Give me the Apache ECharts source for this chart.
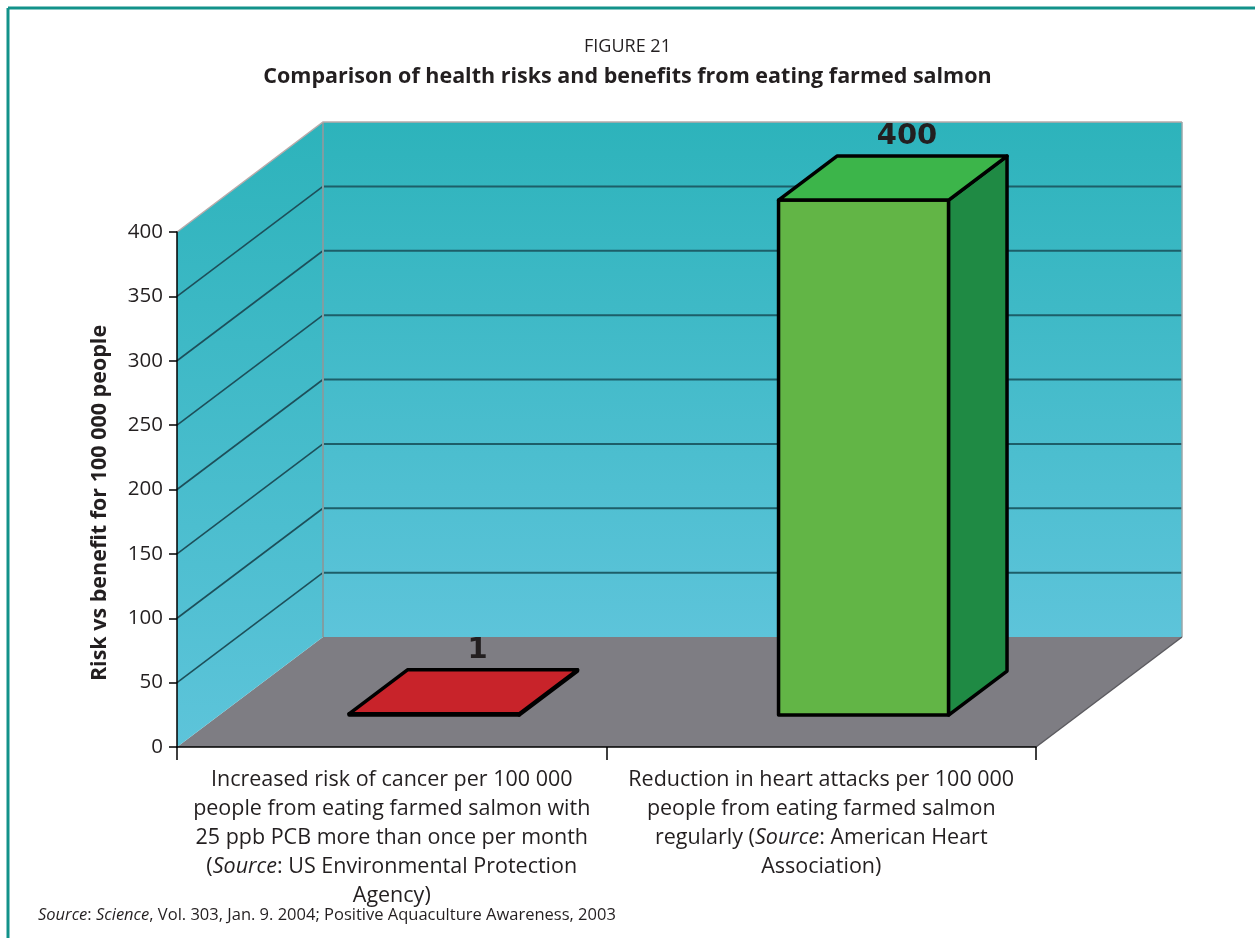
<!DOCTYPE html>
<html><head><meta charset="utf-8">
<script src="https://cdn.jsdelivr.net/npm/echarts@6/dist/echarts.min.js"></script>
<style>html,body{margin:0;padding:0;background:#fff}#c{width:1255px;height:938px}</style>
</head><body><div id="c"></div>
<script>
// ---- data ----
const categories = [
  'Increased risk of cancer per 100 000\npeople from eating farmed salmon with\n25 ppb PCB more than once per month\n({i|Source}: US Environmental Protection\nAgency)',
  'Reduction in heart attacks per 100 000\npeople from eating farmed salmon\nregularly ({i|Source}: American Heart\nAssociation)'
];
const values = [1, 400];
const valueLabels = ['1', '400'];
const yTicks = [0, 50, 100, 150, 200, 250, 300, 350, 400];
const yMax = 400;
const yAxisName = 'Risk vs benefit for 100 000 people';

// ---- styling ----
const DX = 146, DY = -110;       // depth offset of the 3D box (px)
const F1 = 0.29, F2 = 0.69;      // bar front/back depth fractions
const BAR_W = 0.396;             // bar width as fraction of category band
const TXT = '#231f20';
const barColors = [
  {front: '#c3252b', top: '#c8232a', side: '#8e1b1f'},
  {front: '#62b546', top: '#3cb54a', side: '#1f8a44'}
];
const wallGrad = {type: 'linear', x: 0, y: 0, x2: 0, y2: 1,
  colorStops: [{offset: 0, color: '#2db3bb'}, {offset: 1, color: '#5dc4da'}]};

function renderWalls(params, api) {
  const c0 = api.coord([0, 0]);
  const band = api.size([1, 0])[0];
  const xL = c0[0] - band / 2;
  const xR = xL + band * categories.length;
  const y0 = c0[1];
  const yT = api.coord([0, yMax])[1];
  const ch = [];
  ch.push({type: 'polygon', shape: {points: [[xL, y0], [xR, y0], [xR + DX, y0 + DY], [xL + DX, y0 + DY]]},
    style: {fill: '#7e7d83'}});
  ch.push({type: 'rect', shape: {x: xL + DX, y: yT + DY, width: xR - xL, height: y0 - yT},
    style: {fill: wallGrad}});
  ch.push({type: 'polygon', shape: {points: [[xL, y0], [xL, yT], [xL + DX, yT + DY], [xL + DX, y0 + DY]]},
    style: {fill: wallGrad}});
  yTicks.forEach(v => {
    if (v <= 0 || v >= yMax) return;
    const y = api.coord([0, v])[1];
    ch.push({type: 'line', shape: {x1: xL + DX, y1: y + DY, x2: xR + DX, y2: y + DY},
      style: {stroke: '#1d5e69', lineWidth: 2}});
    ch.push({type: 'line', shape: {x1: xL, y1: y, x2: xL + DX, y2: y + DY},
      style: {stroke: '#1d4f5a', lineWidth: 1.6}});
  });
  ch.push({type: 'line', shape: {x1: xL + DX, y1: yT + DY, x2: xL + DX, y2: y0 + DY},
    style: {stroke: '#7f9ea3', lineWidth: 2}});
  ch.push({type: 'polyline', shape: {points: [[xL, yT], [xL + DX, yT + DY], [xR + DX, yT + DY]]},
    style: {stroke: '#b8aaaa', lineWidth: 1.5, fill: null}});
  ch.push({type: 'line', shape: {x1: xR + DX, y1: yT + DY, x2: xR + DX, y2: y0 + DY},
    style: {stroke: '#9aa6a8', lineWidth: 1.5}});
  ch.push({type: 'line', shape: {x1: xR, y1: y0, x2: xR + DX, y2: y0 + DY},
    style: {stroke: '#5c5b60', lineWidth: 1.5}});
  return {type: 'group', children: ch};
}

function renderBar(params, api) {
  const ci = api.value(0), v = api.value(1);
  const base = api.coord([ci, 0]);
  const top = api.coord([ci, v]);
  const band = api.size([1, 0])[0];
  const w = band * BAR_W;
  const fx = DX * F1, fy = DY * F1;
  const ddx = DX * (F2 - F1), ddy = DY * (F2 - F1);
  const xl = base[0] - w / 2 + fx, xr = xl + w;
  const yb = base[1] + fy, yt = top[1] + fy;
  const col = barColors[params.dataIndex];
  const st = {stroke: '#000', lineWidth: 3.5, lineJoin: 'round'};
  return {type: 'group', children: [
    {type: 'polygon', shape: {points: [[xl, yb], [xr, yb], [xr, yt], [xl, yt]]},
      style: Object.assign({fill: col.front}, st)},
    {type: 'polygon', shape: {points: [[xr, yb], [xr + ddx, yb + ddy], [xr + ddx, yt + ddy], [xr, yt]]},
      style: Object.assign({fill: col.side}, st)},
    {type: 'polygon', shape: {points: [[xl, yt], [xr, yt], [xr + ddx, yt + ddy], [xl + ddx, yt + ddy]]},
      style: Object.assign({fill: col.top}, st)},
    {type: 'text', x: (xl + xr) / 2 + ddx - 15, y: yt + ddy - 5,
      style: {text: valueLabels[params.dataIndex], fill: TXT, font: 'bold 29px "DejaVu Sans"',
        align: 'center', verticalAlign: 'bottom'}}
  ]};
}

const chart = echarts.init(document.getElementById('c'), null, {renderer: 'canvas'});
chart.setOption({
  backgroundColor: '#fff',
  animation: false,
  title: {
    text: 'FIGURE 21',
    subtext: 'Comparison of health risks and benefits from eating farmed salmon',
    left: 'center', top: 33, itemGap: 10,
    textStyle: {fontFamily: 'Open Sans', fontSize: 18, fontWeight: 'normal', color: TXT},
    subtextStyle: {fontFamily: 'Open Sans', fontSize: 21.5, fontWeight: 'bold', color: TXT}
  },
  grid: {left: 177, right: 219, top: 232, bottom: 191, containLabel: false},
  xAxis: {
    type: 'category', data: categories,
    axisLine: {show: true, lineStyle: {color: '#000', width: 1.5}},
    axisTick: {show: true, length: 13, lineStyle: {color: '#000', width: 1.5}},
    axisLabel: {
      interval: 0, margin: 18, color: TXT, fontFamily: 'Open Sans', fontSize: 21.5, lineHeight: 29,
      align: 'center',
      rich: {i: {fontStyle: 'italic', fontFamily: 'Open Sans', fontSize: 21.5, lineHeight: 29, color: TXT}}
    },
    splitLine: {show: false}
  },
  yAxis: {
    type: 'value', min: 0, max: yMax, interval: 50,
    axisLine: {show: true, lineStyle: {color: '#000', width: 1.5}},
    axisTick: {show: true, length: 8, lineStyle: {color: '#000', width: 1.5}},
    axisLabel: {margin: 14, color: TXT, fontFamily: 'Open Sans', fontSize: 20.5},
    splitLine: {show: false}
  },
  graphic: [
    {type: 'line', shape: {x1: 8, y1: 8, x2: 1255, y2: 8}, style: {stroke: '#12928a', lineWidth: 3}, z: 10},
    {type: 'line', shape: {x1: 8, y1: 8, x2: 8, y2: 938}, style: {stroke: '#12928a', lineWidth: 3}, z: 10},
    {type: 'text', x: 100, y: 503, rotation: Math.PI / 2, style: {
      text: yAxisName, font: 'bold 21.5px "Open Sans"', fill: TXT, align: 'center', verticalAlign: 'middle'}},
    {type: 'text', left: 38, top: 907, style: {
      text: '{i|Source}: {i|Science}, Vol. 303, Jan. 9. 2004; Positive Aquaculture Awareness, 2003',
      font: '16.5px "Open Sans"', fill: TXT,
      rich: {i: {fontStyle: 'italic', fontFamily: 'Open Sans', fontSize: 16.5, fill: TXT}}
    }}
  ],
  series: [
    {type: 'custom', name: 'walls', coordinateSystem: 'cartesian2d', clip: false, z: -1,
      silent: true, renderItem: renderWalls, data: [[0, 0]]},
    {type: 'custom', name: 'values', coordinateSystem: 'cartesian2d', clip: false, z: 5,
      renderItem: renderBar, data: values.map((v, i) => [i, v])}
  ]
});
</script></body></html>
